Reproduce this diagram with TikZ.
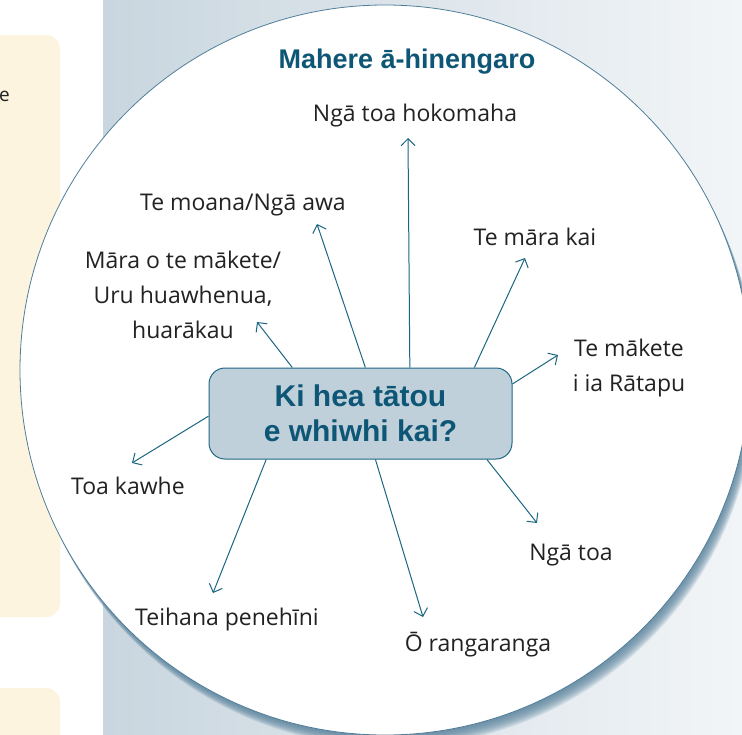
\documentclass[tikz,border=0pt]{standalone}
\usepackage{fontspec}
\setmainfont{Liberation Sans}
\newfontfamily\handfont{Open Sans}
\usetikzlibrary{arrows.meta}
\definecolor{panelL}{HTML}{C9D6DF}
\definecolor{panelR}{HTML}{F2F5F7}
\definecolor{cream}{HTML}{FDF4DF}
\definecolor{rim}{HTML}{4F7E99}
\definecolor{rimshadow}{HTML}{5A839D}
\definecolor{boxfill}{HTML}{C0D0DB}
\definecolor{boxline}{HTML}{1E6785}
\definecolor{titleblue}{HTML}{0E5676}
\definecolor{arrowblue}{HTML}{1B6682}
\definecolor{ink}{HTML}{222222}
\begin{document}
\begin{tikzpicture}[x=1pt, y=-1pt, >={Straight Barb[length=7pt,width=14pt]},
	lbl/.style={font=\handfont\fontsize{23}{35}\selectfont, text=ink, align=center, inner sep=0pt},
	link/.style={->, arrowblue, line width=1pt}]
% Frame
\useasboundingbox (0,0) rectangle (742,734);
\clip (0,0) rectangle (742,734);
\fill[white] (0,0) rectangle (742,734);
% Cream panels on the left
\fill[cream, rounded corners=14pt] (-30,35) rectangle (60,617);
\fill[cream, rounded corners=14pt] (-30,688) rectangle (60,790);
\node[font=\handfont\fontsize{19}{19}\selectfont, text=ink, anchor=west, inner sep=0pt] (cut) at (-1,96) {e};
% Blue panel
\shade[left color=panelL, right color=panelR] (103,0) rectangle (742,734);
% Circle and its shadow
\foreach \k in {1,...,10}
	\fill[rimshadow, opacity=0.16] (385+0.6*\k, 370+1.2*\k) circle (365pt);
\draw[rim, line width=0.8pt, fill=white] (385,370) circle (365pt);
% Title
\node[text=titleblue, font=\bfseries\fontsize{27}{30}\selectfont] (title) at (407,62) {Mahere ā-hinengaro};
% Centre
\node[draw=boxline, fill=boxfill, line width=1pt, rounded corners=16pt, minimum width=303pt, minimum height=91pt,
	text=titleblue, font=\bfseries\fontsize{30}{35}\selectfont, align=center] (kai) at (360.5,413.5) {Ki hea tātou\\e whiwhi kai?};
% Places
\node[lbl] (hoko) at (415,116) {Ngā toa hokomaha};
\node[lbl] (moana) at (243,205) {Te moana/Ngā awa};
\node[lbl] (maket) at (183,295) {Māra o te mākete/\\Uru huawhenua,\\huarākau};
\node[lbl] (marakai) at (535,237) {Te māra kai};
\node[lbl] (ratapu) at (629,368) {Te mākete\\i ia Rātapu};
\node[lbl] (kawhe) at (128,486) {Toa kawhe};
\node[lbl] (ngatoa) at (571,555) {Ngā toa};
\node[lbl] (penehini) at (227,620) {Teihana penehīni};
\node[lbl] (ranga) at (478,645) {Ō rangaranga};
% Arrow tips
\coordinate (hokoTip) at (408,138);
\coordinate (moanaTip) at (317,224);
\coordinate (maketTip) at (257,322);
\coordinate (marakaiTip) at (525,258);
\coordinate (ratapuTip) at (558,355);
\coordinate (kawheTip) at (132,463);
\coordinate (penehiniTip) at (213,593);
\coordinate (rangaTip) at (423,617);
\coordinate (ngatoaTip) at (537,523);
% Arrows
\draw[link] (kai.43.8) -- (hokoTip);
\draw[link] (kai.84.4) -- (moanaTip);
\draw[link] (kai.146) -- (maketTip);
\draw[link] (kai.22.4) -- (marakaiTip);
\draw[link] (kai.11.4) -- (ratapuTip);
\draw[link] (kai.181.3) -- (kawheTip);
\draw[link] (kai.206.4) -- (penehiniTip);
\draw[link] (kai.288.8) -- (rangaTip);
\draw[link] (kai.340.1) -- (ngatoaTip);
\end{tikzpicture}
\end{document}
